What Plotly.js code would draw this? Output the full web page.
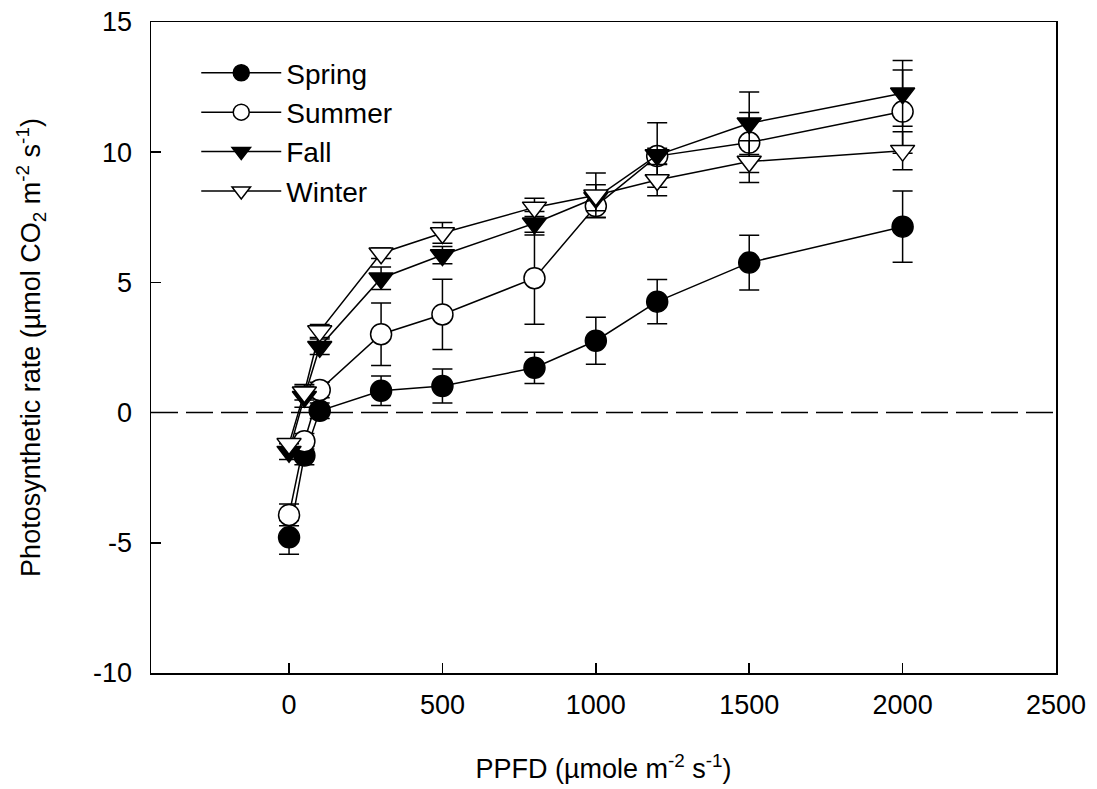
<!DOCTYPE html>
<html>
<head>
<meta charset="utf-8">
<script src="https://cdn.plot.ly/plotly-3.0.1.min.js"></script>
<style>html,body{margin:0;padding:0;background:#fff;}#chart{width:1097px;height:789px;}</style>
</head>
<body>
<div id="chart"></div>
<script>
const ppfd = [0, 50, 100, 300, 500, 800, 1000, 1200, 1500, 2000];
const spring = [-4.79, -1.65, 0.07, 0.84, 1.02, 1.72, 2.76, 4.26, 5.76, 7.14];
const springErr = [0.65, 0.35, 0.3, 0.57, 0.65, 0.6, 0.9, 0.85, 1.05, 1.37];
const summer = [-3.93, -1.1, 0.87, 3.01, 3.77, 5.16, 7.93, 9.85, 10.37, 11.56];
const summerErr = [0.42, 0.3, 0.3, 1.2, 1.35, 1.77, 0.45, 0.3, 1.15, 1.6];
const fall = [-1.5, 0.61, 2.53, 5.16, 6.05, 7.27, 8.25, 9.89, 11.11, 12.26];
const fallErr = [0.3, 0.4, 0.3, 0.43, 0.33, 0.45, 0.5, 1.24, 1.2, 1.26];
const winter = [-1.2, 0.78, 3.13, 6.12, 6.9, 7.88, 8.35, 8.93, 9.64, 10.06];
const winterErr = [0.2, 0.3, 0.25, 0.2, 0.4, 0.35, 0.85, 0.6, 0.8, 0.73];
const seriesNames = ['Spring', 'Summer', 'Fall', 'Winter'];
const xTicks = [0, 500, 1000, 1500, 2000, 2500];
const yTicks = [-10, -5, 0, 5, 10, 15];

const FONT = 'Liberation Sans, Arial, sans-serif';
const styles = [
  {symbol: 'circle', fill: '#000000'},
  {symbol: 'circle', fill: '#ffffff'},
  {symbol: 'triangle-down', fill: '#000000'},
  {symbol: 'triangle-down', fill: '#ffffff'}
];
const ys = [spring, summer, fall, winter];
const errs = [springErr, summerErr, fallErr, winterErr];

const traces = ys.map((y, i) => ({
  type: 'scatter',
  mode: 'lines+markers',
  name: seriesNames[i],
  x: ppfd,
  y: y,
  line: {color: '#000', width: 1.5},
  marker: {symbol: styles[i].symbol, size: 21, color: styles[i].fill, line: {color: '#000', width: 1.5}},
  error_y: {type: 'data', array: errs[i], visible: true, color: '#000', thickness: 1.5, width: 10}
}));

const layout = {
  width: 1097, height: 789,
  margin: {l: 151, r: 41, t: 22, b: 116},
  paper_bgcolor: '#fff', plot_bgcolor: '#fff',
  font: {family: FONT, size: 27, color: '#000'},
  showlegend: true,
  legend: {x: 0.05, y: 0.96, xanchor: 'left', yanchor: 'top', bgcolor: 'rgba(0,0,0,0)', font: {size: 28}, itemwidth: 80},
  xaxis: {
    range: [-450, 2500], tickvals: xTicks, ticktext: xTicks.map(String),
    ticks: 'inside', ticklen: 10, tickwidth: 1.5, tickcolor: '#000',
    showline: true, linecolor: '#000', linewidth: 1.5, mirror: true,
    showgrid: false, zeroline: false, ticklabelstandoff: 7,
    title: {text: 'PPFD (µmole m<sup>-2</sup> s<sup>-1</sup>)', font: {size: 27}, standoff: 40}
  },
  yaxis: {
    range: [-10, 15], tickvals: yTicks, ticktext: yTicks.map(String),
    ticks: 'inside', ticklen: 10, tickwidth: 1.5, tickcolor: '#000',
    showline: true, linecolor: '#000', linewidth: 1.5, mirror: true,
    showgrid: false, zeroline: false, ticklabelstandoff: 12,
    title: {text: 'Photosynthetic rate (µmol CO<sub>2</sub> m<sup>-2</sup> s<sup>-1</sup>)', font: {size: 27}, standoff: 44}
  },
  shapes: [{type: 'line', xref: 'paper', x0: 0, x1: 1, yref: 'y', y0: 0, y1: 0, layer: 'below',
            line: {color: '#000', width: 1.5, dash: '27px,8px'}}]
};

Plotly.newPlot('chart', traces, layout, {displayModeBar: false, staticPlot: true});
</script>
</body>
</html>
